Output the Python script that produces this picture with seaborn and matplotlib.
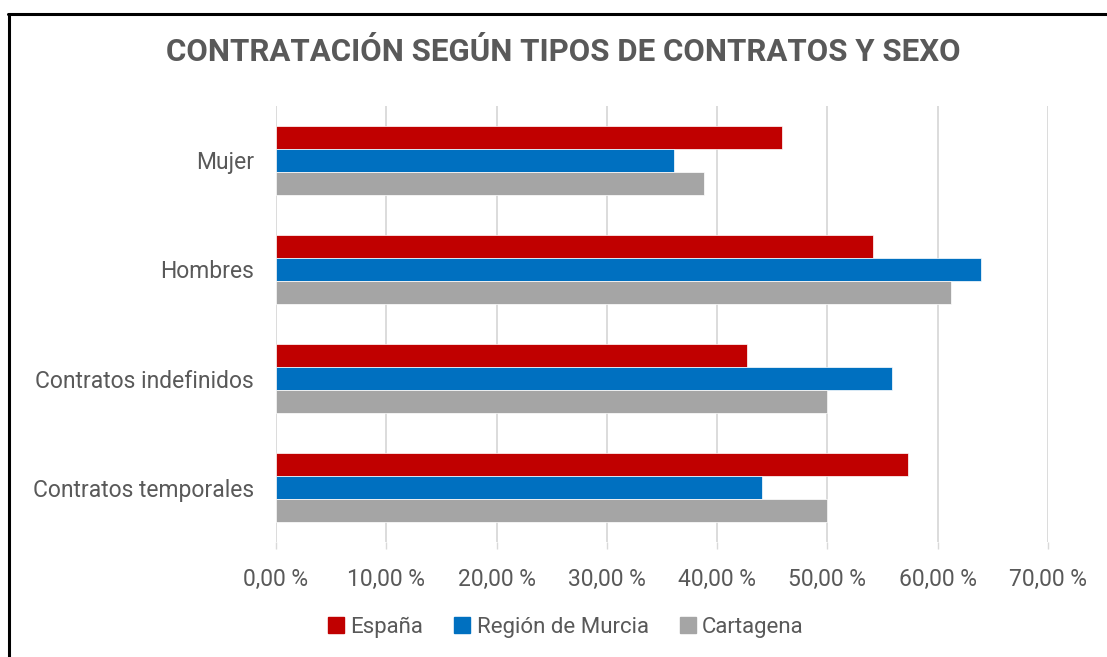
import pandas as pd
import seaborn as sns
import matplotlib.pyplot as plt
from matplotlib.ticker import FuncFormatter, MultipleLocator
from matplotlib.lines import Line2D

categorias = ["Mujer", "Hombres", "Contratos indefinidos", "Contratos temporales"]
espana = [45.9, 54.1, 42.7, 57.3]
murcia = [36.1, 63.9, 55.9, 44.1]
cartagena = [38.8, 61.2, 50.0, 50.0]
series = ["España", "Región de Murcia", "Cartagena"]
colores = ["#C00000", "#0070C0", "#A5A5A5"]

rows = []
for nombre, valores in zip(series, [espana, murcia, cartagena]):
    for cat, v in zip(categorias, valores):
        rows.append({"Categoria": cat, "Serie": nombre, "Valor": v})
df = pd.DataFrame(rows)

sns.set_theme(style="white")
plt.rcParams['font.family'] = ['Roboto', 'DejaVu Sans']
texto = "#595959"

fig = plt.figure(figsize=(11.07, 6.57), dpi=100)
ax = fig.add_axes([276 / 1107, 1 - 542 / 657, (1048 - 276) / 1107, 436 / 657])

sns.barplot(data=df, y="Categoria", x="Valor", hue="Serie", order=categorias,
            hue_order=series, palette=colores, width=0.625, orient="h",
            saturation=1, ax=ax, legend=False, linewidth=0.5)

ax.set_xlim(0, 70)
ax.set_ylim(3.5, -0.5)
ax.xaxis.set_major_locator(MultipleLocator(10))
ax.xaxis.set_major_formatter(FuncFormatter(lambda v, p: f"{v:.2f}".replace(".", ",") + " %"))
ax.grid(axis="x", color="#d9d9d9", linewidth=1.3)
ax.set_axisbelow(True)
for s in ax.spines.values():
    s.set_visible(False)
ax.tick_params(axis="x", colors="#d9d9d9", length=5, width=1, labelcolor=texto,
               labelsize=16.5, pad=14, bottom=True)
ax.tick_params(axis="y", length=0, labelcolor=texto, labelsize=16.5, pad=16)
ax.set_xlabel("")
ax.set_ylabel("")

fig.text(563 / 1107, 1 - 52 / 657, "CONTRATACIÓN SEGÚN TIPOS DE CONTRATOS Y SEXO",
         ha="center", va="center", fontsize=22.5, fontweight="bold", color=texto)

handles = [Line2D([], [], marker="s", linestyle="", markersize=11,
                  markerfacecolor=c, markeredgecolor=c) for c in colores]
fig.legend(handles, series, loc="center", bbox_to_anchor=(566 / 1107, 1 - 627 / 657),
           ncol=3, frameon=False, fontsize=16, labelcolor=texto,
           handlelength=0.7, handletextpad=0.3, columnspacing=1.4)

# marco del gráfico
fig.add_artist(Line2D([8.5 / 1107, 8.5 / 1107], [0, 1 - 14 / 657], color="black",
                      linewidth=2.2, transform=fig.transFigure))
fig.add_artist(Line2D([8 / 1107, 1], [1 - 14 / 657, 1 - 14 / 657], color="black",
                      linewidth=2.2, transform=fig.transFigure))

fig.savefig("out.png", dpi=100)
